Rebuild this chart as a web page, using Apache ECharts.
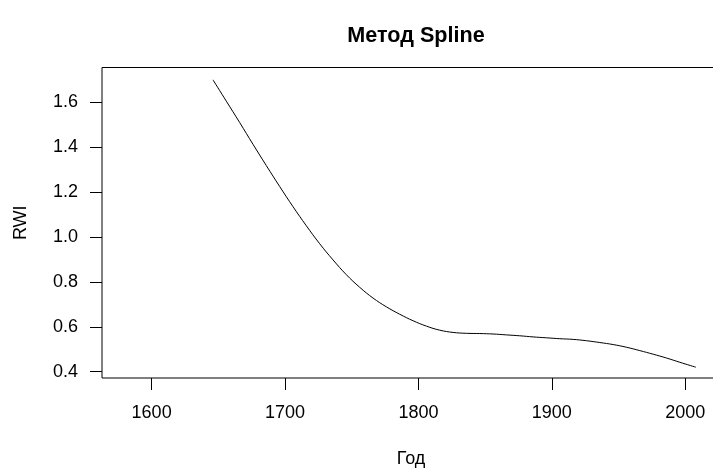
<!DOCTYPE html>
<html>
<head>
<meta charset="utf-8">
<script src="https://cdn.jsdelivr.net/npm/echarts@6/dist/echarts.min.js"></script>
<style>html,body{margin:0;padding:0;background:#fff}#c{width:713px;height:470px}</style>
</head>
<body>
<div id="c"></div>
<script>
var years = [1646,1656,1666,1676,1686,1696,1706,1716,1726,1736,1746,1756,1766,1776,1786,1796,1806,1816,1826,1836,1846,1856,1866,1876,1886,1896,1906,1916,1926,1936,1946,1956,1966,1976,1986,1996,2008];
var rwi = [1.700,1.605,1.510,1.413,1.318,1.225,1.135,1.050,0.970,0.898,0.832,0.776,0.728,0.689,0.656,0.627,0.603,0.585,0.575,0.571,0.570,0.568,0.564,0.560,0.555,0.551,0.547,0.544,0.538,0.530,0.521,0.509,0.494,0.478,0.461,0.442,0.420];
var xTicks = [1600,1700,1800,1900,2000];
var yTicks = [0.4,0.6,0.8,1.0,1.2,1.4,1.6];
var titleText = 'Метод Spline';
var xName = 'Год';
var yName = 'RWI';

var font = '"Liberation Sans", Arial, sans-serif';
var chart = echarts.init(document.getElementById('c'), null, {renderer:'canvas'});
var data = years.map(function(y,i){return [y, rwi[i]];});
chart.setOption({
  animation:false,
  backgroundColor:'#fff',
  title:{text:titleText,left:411,top:20,textAlign:'center',
    textStyle:{fontFamily:font,fontSize:21.6,fontWeight:'bold',color:'#000'}},
  grid:{left:102,top:67.5,width:618,height:310.5,outerBoundsMode:'none',containLabel:false,
    show:true,borderColor:'#000',borderWidth:1,backgroundColor:'transparent'},
  xAxis:{type:'value',min:1562.8,max:2026.1,
    name:xName,nameLocation:'middle',nameGap:72,
    nameTextStyle:{fontFamily:font,fontSize:18,color:'#000'},
    axisLine:{show:false},
    axisTick:{show:true,length:12,customValues:xTicks,lineStyle:{color:'#000',width:1}},
    axisLabel:{customValues:xTicks,margin:26,fontFamily:font,fontSize:18,color:'#000',
      formatter:function(v){return String(v);}},
    splitLine:{show:false}},
  yAxis:{type:'value',min:0.372,max:1.755,
    name:yName,nameLocation:'middle',nameGap:72,nameRotate:90,
    nameTextStyle:{fontFamily:font,fontSize:18,color:'#000'},
    axisLine:{show:false},
    axisTick:{show:true,length:12,customValues:yTicks,lineStyle:{color:'#000',width:1}},
    axisLabel:{customValues:yTicks,margin:24,fontFamily:font,fontSize:18,color:'#000',
      formatter:function(v){return v.toFixed(1);}},
    splitLine:{show:false}},
  series:[{type:'line',data:data,smooth:0.4,showSymbol:false,symbol:'none',
    lineStyle:{color:'#000',width:1}}]
});
</script>
</body>
</html>
